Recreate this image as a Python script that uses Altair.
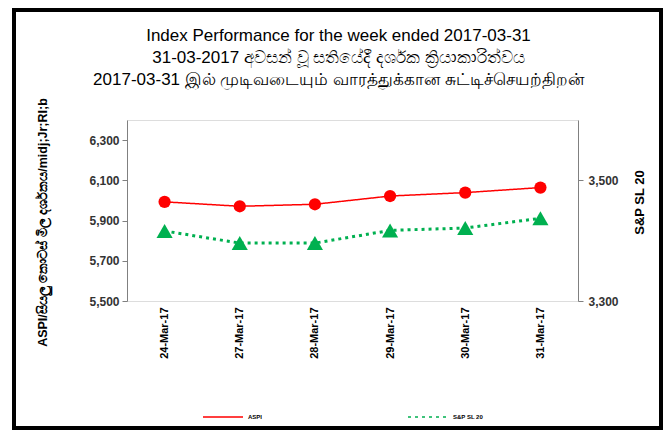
import altair as alt
import pandas as pd

dates = ["24-Mar-17", "27-Mar-17", "28-Mar-17", "29-Mar-17", "30-Mar-17", "31-Mar-17"]
aspi = [5993, 5971, 5981, 6022, 6039, 6064]
snp = [3416, 3396, 3396, 3417, 3421, 3437]
series_names = ["ASPI", "S&P SL 20"]
series_colors = ["#FF0000", "#00B050"]
left_ticks = [5500, 5700, 5900, 6100, 6300]
right_ticks = [3300, 3500]
title_lines = [
    "Index Performance  for the week ended 2017-03-31",
    "31-03-2017 අවසන් වූ සතියේදී දර්ශක ක්‍රියාකාරිත්වය",
    "2017-03-31  இல்  முடிவடையும்  வாரத்துக்கான  சுட்டிச்செயற்திறன்",
]
left_title = "ASPI/සියලු කොටස් මිල දර්ශකය/midj;Jr;RI;b"
right_title = "S&P SL 20"

df = pd.DataFrame({
    "date": dates * 2,
    "series": [series_names[0]] * 6 + [series_names[1]] * 6,
    "value": aspi + snp,
})

FONT = "Liberation Sans"

x_enc = alt.X(
    "date:N", sort=dates, title=None,
    scale=alt.Scale(type="point", padding=0.5),
    axis=alt.Axis(labelAngle=-90, labelFontWeight="bold", labelFontSize=11,
                  labelColor="#000000", labelFont=FONT, domain=False, ticks=False,
                  labelPadding=6),
)

legend_cfg = alt.Legend(
    title=None, orient="none", legendX=75, legendY=276, direction="horizontal",
    symbolType="stroke", symbolSize=1600, symbolStrokeWidth=1.5, padding=0,
    labelFontSize=6, labelFont=FONT, labelFontWeight="bold",
    columnPadding=142, labelOffset=4,
)

color_enc = alt.Color(
    "series:N",
    scale=alt.Scale(domain=series_names, range=series_colors),
    legend=legend_cfg,
)
dash_enc = alt.StrokeDash(
    "series:N",
    scale=alt.Scale(domain=series_names, range=[[1, 0], [3, 4]]),
    legend=legend_cfg,
)

y_left = alt.Y(
    "value:Q", title=left_title,
    scale=alt.Scale(domain=[5500, 6400], nice=False, zero=False),
    axis=alt.Axis(values=left_ticks, format=",.0f", orient="left", grid=False,
                  labelFontWeight="bold", labelFontSize=12, labelColor="#333333",
                  labelFont=FONT, tickSize=5, tickColor="#808080",
                  domainColor="#808080", labelPadding=3,
                  titleFont=FONT, titleFontSize=12.5, titleFontWeight="bold",
                  titleColor="#000000", titleX=-85, titleY=102, titleAngle=270,
                  titleAlign="center", titleBaseline="middle"),
)
y_right = alt.Y(
    "value:Q", title=right_title,
    scale=alt.Scale(domain=[3300, 3600], nice=False, zero=False),
    axis=alt.Axis(values=right_ticks, format=",.0f", orient="right", grid=False,
                  labelFontWeight="bold", labelFontSize=12, labelColor="#333333",
                  labelFont=FONT, tickSize=5, tickColor="#808080",
                  domainColor="#808080", labelPadding=5,
                  titleFont=FONT, titleFontSize=13, titleFontWeight="bold",
                  titleColor="#000000", titleX=61, titleY=82, titleAngle=270,
                  titleAlign="center", titleBaseline="middle"),
)

base = alt.Chart(df)

aspi_line = base.transform_filter(alt.datum.series == series_names[0]).mark_line(
    strokeWidth=1.5).encode(x=x_enc, y=y_left, color=color_enc, strokeDash=dash_enc)
aspi_pts = base.transform_filter(alt.datum.series == series_names[0]).mark_point(
    shape="circle", filled=True, size=150, opacity=1, color=series_colors[0]
).encode(x=x_enc, y=y_left)

snp_line = base.transform_filter(alt.datum.series == series_names[1]).mark_line(
    strokeWidth=3, strokeCap="butt").encode(x=x_enc, y=y_right, color=color_enc, strokeDash=dash_enc)
snp_pts = base.transform_filter(alt.datum.series == series_names[1]).mark_point(
    shape="triangle-up", filled=True, size=260, opacity=1, color=series_colors[1]
).encode(x=x_enc, y=y_right)

left_layer = alt.layer(aspi_line, aspi_pts)
right_layer = alt.layer(snp_line, snp_pts)

frame = alt.Chart(alt.Data(values=[{"k": 1}])).mark_rect(
    fill=None, fillOpacity=0, stroke="#000000", strokeWidth=4
).encode(x=alt.value(-113), x2=alt.value(534), y=alt.value(-110), y2=alt.value(308))

chart = alt.layer(left_layer, right_layer, frame).resolve_scale(
    y="independent"
).properties(
    width=451, height=181,
    autosize=alt.AutoSizeParams(type="none"),
    padding={"left": 119, "top": 112, "right": 85, "bottom": 129},
    title=alt.TitleParams(
        text=title_lines, anchor="middle", fontSize=17, font=FONT,
        fontWeight="normal", color="#000000", lineHeight=22, offset=-81, dx=-14,
    ),
).configure_view(stroke="#868686", strokeWidth=1.2).configure(background="#FFFFFF")

chart.save("out.html", embed_options={"renderer": "svg", "actions": False})
